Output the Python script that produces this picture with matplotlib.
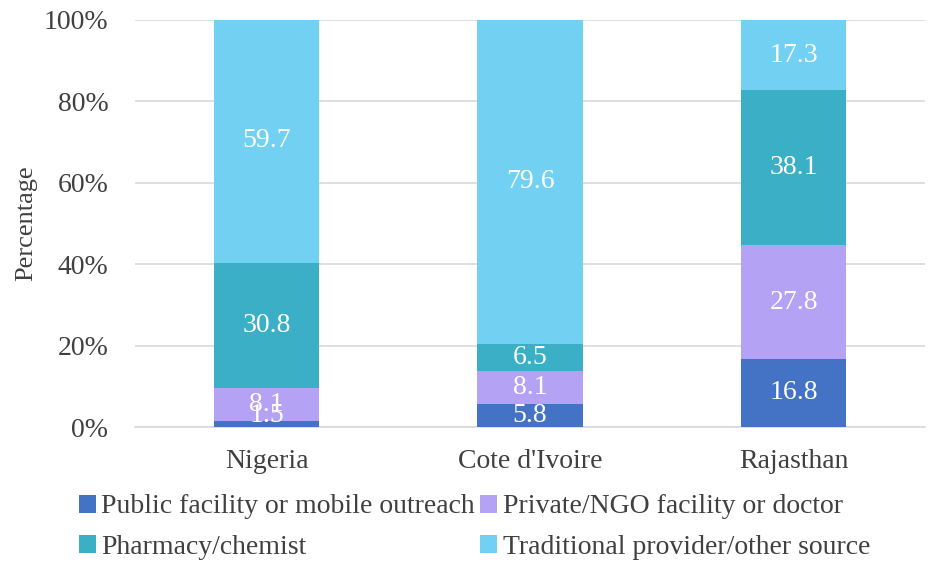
import matplotlib.pyplot as plt
import numpy as np

regions = ["Nigeria", "Cote d'Ivoire", "Rajasthan"]
series_names = ["Public facility or mobile outreach", "Private/NGO facility or doctor",
                "Pharmacy/chemist", "Traditional provider/other source"]
public = [1.5, 5.8, 16.8]
private = [8.1, 8.1, 27.8]
pharmacy = [30.8, 6.5, 38.1]
traditional = [59.7, 79.6, 17.3]
colors = ["#4472C4", "#B4A2F4", "#3AAFC6", "#72D1F3"]

plt.rcParams['font.family'] = ['Liberation Serif', 'DejaVu Serif']

fig = plt.figure(figsize=(9.3, 5.65), dpi=100)
ax = fig.add_axes([0.145, 0.244, 0.85, 0.721])

x = np.arange(len(regions))
bottom = np.zeros(len(regions))
handles = []
for name, vals, c in zip(series_names, [public, private, pharmacy, traditional], colors):
    vals = np.array(vals)
    h = ax.bar(x, vals, 0.4, bottom=bottom, color=c, label=name, zorder=3)
    handles.append(h)
    for xi, b, v in zip(x, bottom, vals):
        # tiny segments: keep the label inside the bar like Excel does
        ypos = max(b + v / 2, 2.9)
        ax.text(xi, ypos, f"{v:.1f}", ha='center', va='center',
                color='white', fontsize=20, zorder=4)
    bottom += vals

ax.set_xlim(-0.5, 2.5)
ax.set_ylim(0, 100)
ax.set_yticks(np.arange(0, 101, 20))
ax.set_yticklabels([f"{t}%" for t in range(0, 101, 20)])
ax.set_xticks(x)
ax.set_xticklabels(regions)
ax.tick_params(axis='both', length=0, labelsize=20, labelcolor='#404040')
ax.tick_params(axis='y', pad=19)
ax.tick_params(axis='x', pad=16)
ax.grid(axis='y', color='#D9D9D9', linewidth=1.2, zorder=0)
for s in ['top', 'right', 'left']:
    ax.spines[s].set_visible(False)
ax.spines['bottom'].set_color('#D9D9D9')
ax.spines['bottom'].set_linewidth(1.2)
ax.set_ylabel("Percentage", fontsize=19, color='#404040', labelpad=5)

# row-major legend order
order = [0, 2, 1, 3]
fig.legend([handles[i] for i in order], [series_names[i] for i in order],
           loc='lower left', bbox_to_anchor=(0.058, -0.035), ncol=2, frameon=False,
           fontsize=20, labelcolor='#404040', handlelength=0.6, handleheight=0.6,
           handletextpad=0.2, columnspacing=0.2, labelspacing=0.55)

fig.savefig("out.png", dpi=100)
